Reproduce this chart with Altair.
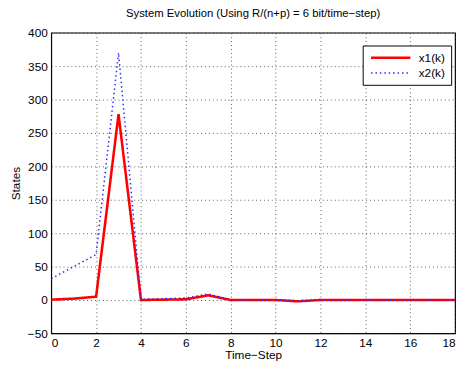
import altair as alt
import pandas as pd

steps = list(range(0, 19))
x1 = [0.5, 2, 5, 278, 0, 0.5, 1, 7, 0, 0, 0, -2, 0, 0, 0, 0, 0, 0, 0]
x2 = [32, 50, 68, 370, 1, 2, 3, 9, 0, 0, 0, -1, 0, 0, 0, -0.5, 0, 0, 0]
series = ["x1(k)", "x2(k)"]

rows = []
for name, vals in zip(series, [x1, x2]):
    for t, v in zip(steps, vals):
        rows.append({"t": t, "v": v, "s": name})
df = pd.DataFrame(rows)

font = "Liberation Sans"

leg = alt.Legend(title=None, orient="none", legendX=317, legendY=13,
                 symbolType="M-4,0H4", symbolSize=100, symbolOffset=16,
                 labelFont=font, labelFontSize=12, labelColor="black",
                 strokeColor="black", fillColor="white",
                 padding=6, rowPadding=3, labelOffset=22)

chart = alt.Chart(df).mark_line(clip=True).encode(
    x=alt.X("t:Q", scale=alt.Scale(domain=[0, 18], nice=False),
            axis=alt.Axis(values=list(range(0, 19, 2)), title="Time\u2212Step", format="d")),
    y=alt.Y("v:Q", scale=alt.Scale(domain=[-50, 400], nice=False),
            axis=alt.Axis(values=list(range(-50, 401, 50)), title="States",
                          labelExpr="replace(datum.label, '-', '\u2212')")),
    color=alt.Color("s:N", scale=alt.Scale(domain=series, range=["#ff0000", "#2a2aff"]), legend=leg),
    strokeDash=alt.StrokeDash("s:N", scale=alt.Scale(domain=series, range=[[1, 0], [1.5, 3]]), legend=leg),
    strokeWidth=alt.StrokeWidth("s:N", scale=alt.Scale(domain=series, range=[2.6, 1.5]), legend=leg),
).properties(
    width=411, height=306,
    title=alt.Title("System Evolution (Using R/(n+p) = 6 bit/time\u2212step)", fontSize=11.5,
                    font=font, fontWeight="normal", color="black", offset=8),
    autosize=alt.AutoSizeParams(type="none"),
    padding={"left": 44, "top": 22, "right": 4, "bottom": 30},
).configure_axis(
    labelFont=font, labelFontSize=12, labelColor="black",
    titleFont=font, titleFontSize=12, titleFontWeight="normal", titleColor="black",
    grid=True, gridColor="#333333", gridDash=[1, 3], gridWidth=0.8,
    domain=False, ticks=False, labelPadding=4,
).configure_axisX(titlePadding=2).configure_axisY(titlePadding=5).configure_view(
    stroke="black", strokeWidth=1.2
)

chart.save("out.html", embed_options={"renderer": "svg", "actions": False})
